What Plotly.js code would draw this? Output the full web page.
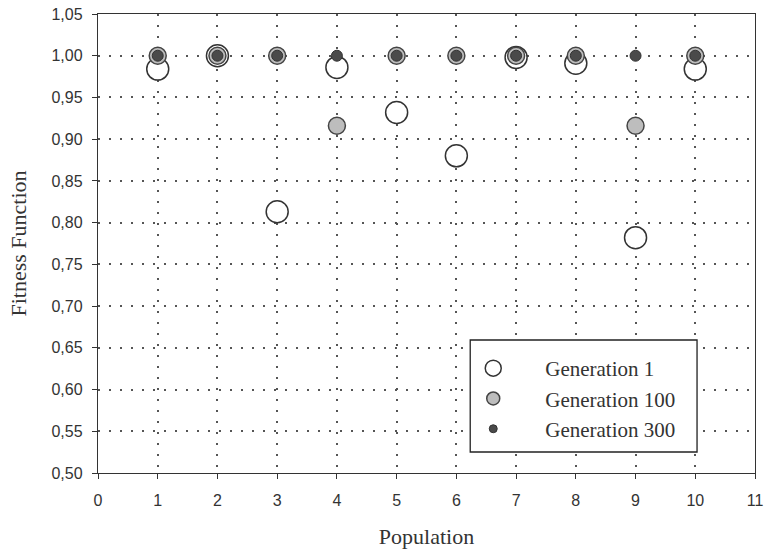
<!DOCTYPE html>
<html><head><meta charset="utf-8">
<script src="https://cdn.plot.ly/plotly-3.0.1.min.js"></script>
<style>html,body{margin:0;padding:0;background:#fff}</style>
</head><body><div id="chart" style="width:764px;height:554px"></div>
<script>
const population = [1,2,3,4,5,6,7,8,9,10];
const gen1 = [0.984,1.000,0.813,0.986,0.932,0.880,0.998,0.991,0.782,0.984];
const gen100 = [1.000,1.000,1.000,0.916,1.000,1.000,1.000,1.000,0.916,1.000];
const gen300 = [1.000,1.000,1.000,1.000,1.000,1.000,1.000,1.000,1.000,1.000];
const seriesNames = ['Generation 1','Generation 100','Generation 300'];
const yTicks = [0.50,0.55,0.60,0.65,0.70,0.75,0.80,0.85,0.90,0.95,1.00,1.05];
const xTicks = [0,1,2,3,4,5,6,7,8,9,10,11];

const styles = [
  {color: '#ffffff', line: {color: '#333', width: 1.5}},
  {color: '#bdbdbd', line: {color: '#444', width: 1.5}},
  {color: '#4a4a4a', line: {color: '#333', width: 1}}
];
const dataSizes = [22, 17, 11];
const legendSizes = [17, 13, 8];
const series = [gen1, gen100, gen300];

const traces = [];
series.forEach((ys, i) => {
  traces.push({x: population, y: ys, name: seriesNames[i], mode: 'markers', type: 'scatter',
    showlegend: false,
    marker: Object.assign({size: dataSizes[i]}, styles[i])});
});
series.forEach((ys, i) => {
  traces.push({x: [null], y: [null], name: seriesNames[i], mode: 'markers', type: 'scatter',
    showlegend: true,
    marker: Object.assign({size: legendSizes[i]}, styles[i])});
});

const axisCommon = {
  showline: true, linecolor: '#333', linewidth: 1.2, mirror: true,
  ticks: 'outside', ticklen: 5, tickcolor: '#333',
  showgrid: true, gridcolor: '#555', gridwidth: 2, griddash: '2px,9px',
  zeroline: false,
  tickfont: {family: 'Liberation Sans, Arial, sans-serif', size: 16, color: '#333'}
};

const titleFont = {family: 'Liberation Serif, Times New Roman, serif', size: 22, color: '#333'};

const layout = {
  width: 764, height: 554,
  margin: {l: 97.5, r: 9, t: 14, b: 81},
  paper_bgcolor: '#fff', plot_bgcolor: '#fff',
  separators: ', ',
  showlegend: true,
  xaxis: Object.assign({}, axisCommon, {
    range: [0, 11], tickvals: xTicks, ticklabelstandoff: 8,
    title: {text: 'Population', standoff: 20, font: titleFont}
  }),
  yaxis: Object.assign({}, axisCommon, {
    range: [0.5, 1.05], tickvals: yTicks, tickformat: '.2f', ticklabelstandoff: 6,
    title: {text: 'Fitness Function', standoff: 18, font: titleFont}
  }),
  shapes: [{
    type: 'rect', xref: 'paper', yref: 'paper', layer: 'above',
    x0: (470 - 97.5) / 657.5, x1: (697 - 97.5) / 657.5,
    y0: (473 - 452) / 459, y1: (473 - 340) / 459,
    fillcolor: '#ffffff', line: {color: '#222', width: 1.3}
  }],
  legend: {
    x: (441 - 97.5) / 657.5, y: (473 - 348) / 459, xanchor: 'left', yanchor: 'top',
    bgcolor: 'rgba(0,0,0,0)', borderwidth: 0,
    font: {family: 'Liberation Serif, Times New Roman, serif', size: 21, color: '#333'},
    itemwidth: 94, tracegroupgap: 0
  }
};

Plotly.newPlot('chart', traces, layout, {displayModeBar: false, staticPlot: true});
</script></body></html>
